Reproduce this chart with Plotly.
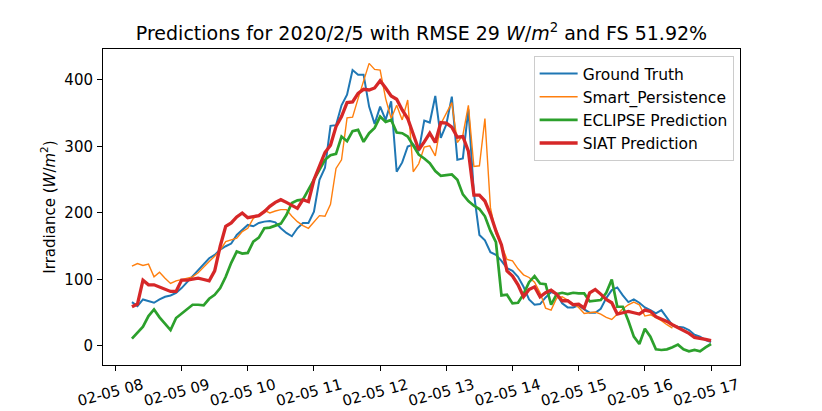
import pandas as pd
import plotly.graph_objects as go

# 5-minute timestamps, 2020-02-05 08:15 .. 17:00
times = pd.date_range("2020-02-05 08:15", periods=106, freq="5min")

ground_truth = [66, 60, 70, 67, 65, 70, 74, 76, 80, 87, 96, 104, 113, 122, 132, 137, 145, 150, 154, 167,
                174, 182, 180, 185, 187, 188, 186, 177, 170, 165, 177, 185, 185, 202, 250, 268, 331, 332, 362, 378,
                415, 408, 408, 360, 334, 360, 340, 368, 262, 276, 300, 303, 293, 339, 336, 376, 313, 333, 375, 280,
                282, 356, 230, 167, 159, 141, 137, 128, 117, 113, 104, 89, 70, 62, 63, 73, 81, 78, 64, 58,
                58, 61, 55, 50, 50, 56, 72, 84, 88, 76, 66, 70, 65, 58, 54, 49, 54, 43, 31, 29,
                28, 24, 17, 14, 9, 6]

smart_persistence = [120, 124, 121, 123, 104, 111, 102, 94, 98, 100, 101, 104, 110, 119, 127, 135, 144, 157, 159, 162,
                     172, 177, 192, 197, 204, 200, 203, 205, 205, 195, 187, 181, 177, 186, 196, 195, 213, 267, 280, 343,
                     344, 372, 397, 425, 416, 415, 372, 342, 362, 340, 370, 262, 274, 299, 301, 286, 334, 350, 366, 306,
                     317, 362, 270, 271, 342, 208, 169, 152, 130, 128, 116, 107, 103, 96, 80, 57, 54, 72, 74, 69,
                     63, 58, 49, 50, 51, 48, 43, 40, 48, 56, 62, 66, 62, 45, 47, 43, 38, 32, 27]

eclipse = [11, 20, 29, 45, 55, 43, 33, 24, 42, 49, 55, 62, 62, 61, 71, 77, 87, 104, 125, 142,
           139, 140, 157, 163, 177, 178, 181, 184, 197, 215, 219, 220, 235, 250, 265, 280, 287, 289, 315, 308,
           323, 325, 307, 320, 328, 345, 337, 340, 321, 320, 315, 301, 288, 282, 275, 263, 256, 257, 258, 250,
           228, 218, 211, 206, 195, 173, 156, 76, 77, 64, 65, 78, 96, 105, 94, 93, 62, 78, 80, 78,
           80, 79, 79, 67, 68, 69, 80, 100, 59, 59, 38, 14, 3, 26, 14, -5, -6, -5, -2, 2,
           -5, -8, -6, -8, -2, 3]

siat = [59, 63, 99, 92, 92, 89, 85, 82, 82, 99, 99, 100, 102, 100, 98, 113, 150, 180, 185, 194,
        200, 193, 194, 196, 202, 210, 216, 220, 216, 211, 207, 220, 217, 250, 270, 291, 302, 330, 345, 366,
        367, 380, 386, 385, 388, 399, 388, 376, 371, 355, 342, 319, 295, 307, 320, 306, 336, 335, 329, 314,
        315, 293, 227, 227, 218, 198, 173, 152, 113, 105, 92, 74, 85, 89, 74, 80, 84, 78, 68, 68,
        62, 63, 57, 80, 85, 78, 70, 65, 48, 50, 52, 50, 48, 54, 52, 44, 41, 37, 32, 28,
        24, 19, 13, 12, 10, 8]

series_names = ["Ground Truth", "Smart_Persistence", "ECLIPSE Prediction", "SIAT Prediction"]
series_colors = ["#1f77b4", "#ff7f0e", "#2ca02c", "#d62728"]
series_widths = [2.0, 1.4, 2.7, 3.3]
series_values = [ground_truth, smart_persistence, eclipse, siat]

hour_ticks = pd.date_range("2020-02-05 08:00", "2020-02-05 17:00", freq="1h")
hour_labels = [t.strftime("%m-%d %H") for t in hour_ticks]

fig = go.Figure()
for name, color, width, vals in zip(series_names, series_colors, series_widths, series_values):
    fig.add_trace(go.Scatter(
        x=times[:len(vals)], y=vals, mode="lines", name=name,
        line=dict(color=color, width=width),
    ))

font_family = "DejaVu Sans"
fig.update_layout(
    width=822, height=411,
    margin=dict(l=103, r=82, t=49, b=46),
    paper_bgcolor="white", plot_bgcolor="white",
    font=dict(family=font_family, size=15, color="black"),
    title=dict(
        text="Predictions for 2020/2/5 with RMSE 29 <i>W</i>/<i>m</i><sup>2</sup> and FS 51.92%",
        x=0.5, xanchor="center", xref="paper", y=1 - 33 / 411, yanchor="middle", yref="container",
        font=dict(size=19, family=font_family),
    ),
    showlegend=True,
    legend=dict(
        x=0.99, xanchor="right", y=0.978, yanchor="top",
        bordercolor="#cccccc", borderwidth=1, bgcolor="rgba(255,255,255,0.8)",
        font=dict(size=15.5, family=font_family),
        itemwidth=38,
    ),
    xaxis=dict(
        type="date", automargin=False,
        range=["2020-02-05 07:48:45", "2020-02-05 17:26:15"],
        tickvals=list(hour_ticks), ticktext=hour_labels,
        tickangle=-15, ticks="outside", ticklen=5, tickwidth=1, tickcolor="black",
        showline=True, linecolor="black", linewidth=1, mirror=True,
        showgrid=False, zeroline=False,
        tickfont=dict(size=15, family=font_family),
        ticklabelshift=27, ticklabelstandoff=0,
    ),
    yaxis=dict(
        automargin=False,
        range=[-28.6, 446.6],
        tickvals=[0, 100, 200, 300, 400],
        ticks="outside", ticklen=5, tickwidth=1, tickcolor="black",
        showline=True, linecolor="black", linewidth=1, mirror=True,
        showgrid=False, zeroline=False,
        tickfont=dict(size=15, family=font_family),
        ticklabelstandoff=1,
        title=dict(text="Irradiance (<i>W</i>/<i>m</i><sup>2</sup>)", font=dict(size=15, family=font_family), standoff=5),
    ),
)

fig.write_html("out.html", config={"displayModeBar": False},
               post_script="document.body.style.margin='0';")
